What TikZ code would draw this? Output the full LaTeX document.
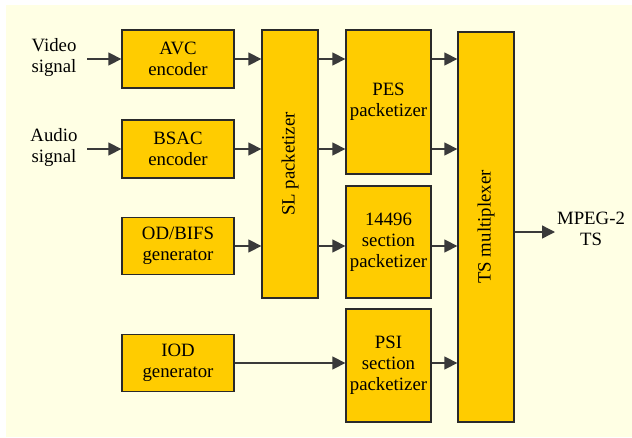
\documentclass[tikz,border=0pt]{standalone}
\usepackage{fontspec}
\setmainfont{Liberation Serif}
\newfontfamily\diagfont{Liberation Serif}
\usetikzlibrary{arrows.meta,calc}
\definecolor{paper}{HTML}{FFFFE4}
\definecolor{boxfill}{HTML}{FFCC00}
\definecolor{edge}{HTML}{2A2A2A}
\definecolor{wire}{HTML}{3A3A3A}
\tikzset{
  blk/.style={draw=edge, line width=1.3pt, fill=boxfill, inner sep=0pt,
    align=center, font=\diagfont\fontsize{18.8}{21}\selectfont},
  lbl/.style={inner sep=0pt, align=center, font=\diagfont\fontsize{18.8}{21}\selectfont},
  flow/.style={draw=wire, line width=1.4pt, -{Triangle[length=13pt,width=13pt]}},
}
\begin{document}
\begin{tikzpicture}[x=1pt,y=-1pt]
  \useasboundingbox (0,0) rectangle (632,437);
  \fill[paper] (6,5) rectangle (632,437);

  % sources and encoders
  \node[blk, minimum width=112pt, minimum height=58pt] (avc)  at (178,59)  {AVC\\encoder};
  \node[blk, minimum width=112pt, minimum height=58pt] (bsac) at (178,149) {BSAC\\encoder};
  \node[blk, minimum width=112pt, minimum height=57pt] (od)   at (178,246) {OD/BIFS\\generator};
  \node[blk, minimum width=112pt, minimum height=57pt] (iod)  at (178,363) {IOD\\generator};

  % SL packetizer
  \node[blk, minimum width=56pt, minimum height=268pt] (sl) at (290,164) {};
  \node[lbl, rotate=90] at (sl.center) {SL packetizer};

  % packetizers
  \node[blk, minimum width=85pt, minimum height=144pt] (pes) at (388.5,102)   {PES\\packetizer};
  \node[blk, minimum width=85pt, minimum height=112pt] (sec) at (388.5,242)   {14496\\section\\packetizer};
  \node[blk, minimum width=85pt, minimum height=113pt] (psi) at (388.5,365.5) {PSI\\section\\packetizer};

  % TS multiplexer
  \node[blk, minimum width=56pt, minimum height=390pt] (ts) at (486,227) {};
  \node[lbl, rotate=90] at (ts.center) {TS multiplexer};

  % inputs and output
  \node[lbl] (vid) at (54,57.5) {Video\\signal};
  \node[lbl] (aud) at (54,148)  {Audio\\signal};
  \coordinate (vin) at (87,59);
  \coordinate (ain) at (87,149);
  \coordinate (out) at (555,232);
  \node[lbl] (mpeg) at (591,229) {MPEG-2\\TS};

  % connections
  \draw[flow] (vin) -- (avc.west);
  \draw[flow] (ain) -- (bsac.west);
  \draw[flow] (avc.east)  -- (avc.east  -| sl.west);
  \draw[flow] (bsac.east) -- (bsac.east -| sl.west);
  \draw[flow] (od.east)   -- (od.east   -| sl.west);
  \draw[flow] (sl.east |- avc)  -- (pes.west |- avc);
  \draw[flow] (sl.east |- bsac) -- (pes.west |- bsac);
  \draw[flow] (sl.east |- od)   -- (sec.west |- od);
  \draw[flow] (iod.east)        -- (psi.west |- iod);
  \draw[flow] (pes.east |- avc)  -- (ts.west |- avc);
  \draw[flow] (pes.east |- bsac) -- (ts.west |- bsac);
  \draw[flow] (sec.east |- od)   -- (ts.west |- od);
  \draw[flow] (psi.east |- iod)  -- (ts.west |- iod);
  \draw[flow] (ts.east |- out) -- (out);
\end{tikzpicture}
\end{document}
